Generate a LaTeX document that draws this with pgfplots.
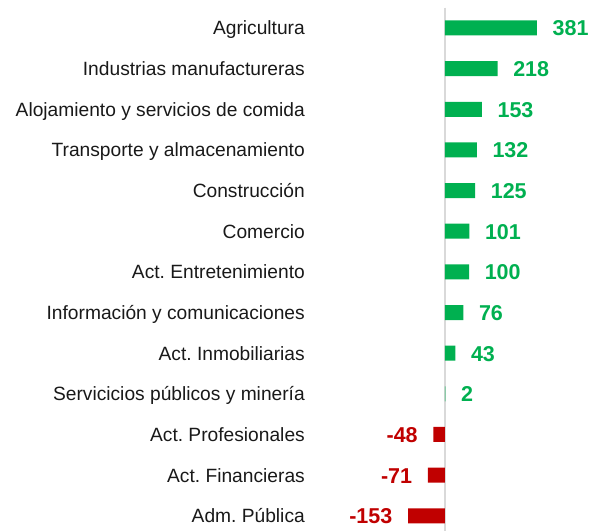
\documentclass[border=0pt]{standalone}
\usepackage{pgfplots}
\pgfplotsset{compat=1.18}
\usepackage{fontspec}
\setmainfont{Liberation Sans}
\frenchspacing
\definecolor{pos}{HTML}{00B050}
\definecolor{neg}{HTML}{C00000}
\definecolor{zeroline}{HTML}{D9D9D9}
\begin{document}
\begin{tikzpicture}
\begin{axis}[
  xbar, bar width=15pt, bar shift=0pt,
  width=607pt, height=531pt, scale only axis,
  xmin=-1842.6, xmax=670.8,
  ymin=-0.688, ymax=12.37, y dir=reverse,
  axis line style={draw=none}, major tick length=0pt,
  xtick=\empty,
  ytick={0,...,12},
  yticklabels={Agricultura,Industrias manufactureras,Alojamiento y servicios de comida,Transporte y almacenamiento,Construcción,Comercio,Act. Entretenimiento,Información y comunicaciones,Act. Inmobiliarias,Servicicios públicos y minería,Act. Profesionales,Act. Financieras,Adm. Pública},
  yticklabel style={anchor=east, inner sep=0pt, xshift=305pt, yshift=-2pt, text height=14pt, text depth=4pt,
    font=\fontsize{19.2}{22}\selectfont, text=black!90},
  nodes near coords={\pgfmathprintnumber[assume math mode=true]{\pgfplotspointmeta}},
  clip=false,
]
\draw[zeroline, line width=2pt] (axis cs:0,-0.5) -- (axis cs:0,12.37);
\addplot[fill=pos, draw=none,
  every node near coord/.append style={anchor=west, inner sep=0pt, xshift=15.5pt, text=pos,
    text height=16pt, text depth=0pt, font=\fontsize{21.5}{24}\selectfont\bfseries}]
  coordinates {(381,0) (218,1) (153,2) (132,3) (125,4) (101,5) (100,6) (76,7) (43,8) (2,9)};
\addplot[fill=neg, draw=none,
  every node near coord/.append style={anchor=east, inner sep=0pt, xshift=-15.5pt, text=neg,
    text height=16pt, text depth=0pt, font=\fontsize{21.5}{24}\selectfont\bfseries}]
  coordinates {(-48,10) (-71,11) (-153,12)};
\end{axis}
\end{tikzpicture}
\end{document}
